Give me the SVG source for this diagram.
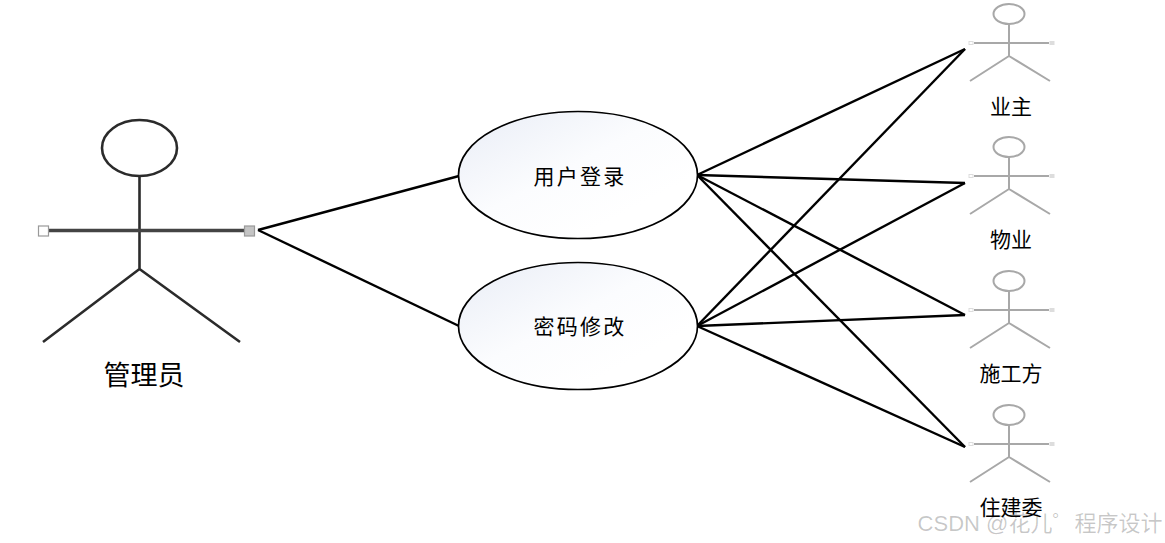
<svg xmlns="http://www.w3.org/2000/svg" width="1165" height="543" viewBox="0 0 1165 543">
<style>
text{font-family:"Liberation Sans","Noto Sans CJK SC",sans-serif;text-anchor:middle;fill:#000}
.big{fill:none;stroke:#2b2b2b;stroke-width:2.6}
.small{fill:none;stroke:#a8a8a8;stroke-width:2}
.uc{fill:url(#g);stroke:#000;stroke-width:1.7}
.c line{stroke:#000;stroke-width:2.4}
.l{font-size:21px}
.u{font-size:21px;letter-spacing:2.200px}
</style>
<defs>
<linearGradient id="g" x1="0" y1="0" x2="0.75" y2="0.75"><stop offset="0" stop-color="#e9edf6"/><stop offset="0.6" stop-color="#fbfcfe"/><stop offset="1" stop-color="#fff"/></linearGradient>
<g id="actor">
<ellipse cx="1009" cy="14" rx="15.500" ry="10"/>
<path d="M1009 24V56M974 43H1049M1009 56L970 81M1009 56L1050 81"/>
<rect x="969" y="41.500" width="4" height="3" fill="#fff" stroke="#ddd" stroke-width="1"/>
<rect x="1050" y="41.500" width="4" height="3" fill="#ddd" stroke="#ddd" stroke-width="1"/>
</g>
</defs>
<rect width="1165" height="543" fill="#fff"/>
<g id="admin">
<g class="big">
<ellipse cx="139.500" cy="148" rx="37.500" ry="28"/>
<path d="M139.500 176V269M139.500 269L43 342M139.500 269L240 342"/>
<path d="M49 230.500H244" stroke-width="3.400" stroke="#444"/>
</g>
<rect x="38.500" y="226" width="10" height="10" fill="#fff" stroke="#999" stroke-width="1.200"/>
<rect x="244.500" y="226" width="10" height="10" fill="#c4c4c4" stroke="#999" stroke-width="1.200"/>
<text x="144" y="385" style="font-size:27px">管理员</text>
</g>
<g id="connectors" class="c">
<line x1="258" y1="230" x2="459" y2="176"/>
<line x1="258" y1="230" x2="459" y2="326"/>
<line x1="697" y1="175" x2="965" y2="49"/>
<line x1="697" y1="175" x2="965" y2="183"/>
<line x1="697" y1="175" x2="965" y2="315"/>
<line x1="697" y1="175" x2="965" y2="447"/>
<line x1="697" y1="326" x2="965" y2="49"/>
<line x1="697" y1="326" x2="965" y2="183"/>
<line x1="697" y1="326" x2="965" y2="315"/>
<line x1="697" y1="326" x2="965" y2="447"/>
</g>
<g id="uc-login">
<ellipse class="uc" cx="578" cy="175" rx="119.500" ry="63.500"/>
<text class="u" x="580" y="184">用户登录</text>
</g>
<g id="uc-password">
<ellipse class="uc" cx="578" cy="326" rx="119.500" ry="63.500"/>
<text class="u" x="580" y="334">密码修改</text>
</g>
<g id="owner"><use href="#actor" class="small"/><text class="l" x="1011" y="114">业主</text></g>
<g id="property"><use href="#actor" class="small" y="133"/><text class="l" x="1011" y="247">物业</text></g>
<g id="builder"><use href="#actor" class="small" y="267"/><text class="l" x="1011" y="381">施工方</text></g>
<g id="committee"><use href="#actor" class="small" y="401"/><text class="l" x="1011" y="515">住建委</text></g>
<text x="1040" y="531" style="font-size:22px;fill:#000;fill-opacity:.22">CSDN @花儿゜程序设计</text>
</svg>
